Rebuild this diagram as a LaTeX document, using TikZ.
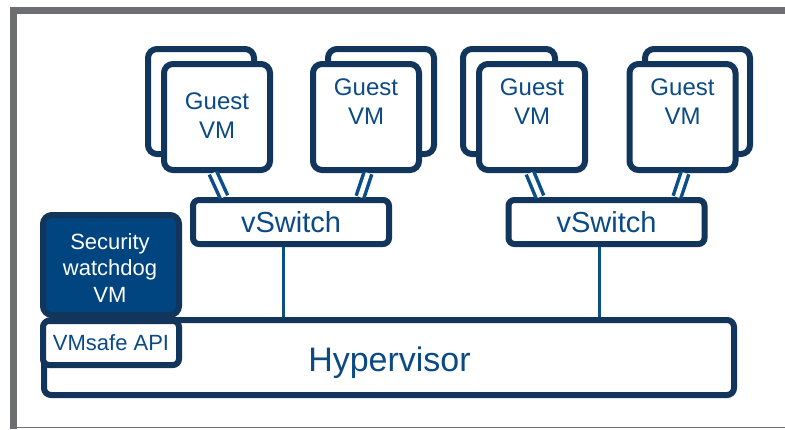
\documentclass[tikz,border=0pt]{standalone}
\usepackage{fontspec}
\setmainfont{Liberation Sans}
\usepackage{tikz}

\begin{document}
\begin{tikzpicture}[x=1pt,y=-1pt,
        vmBox/.style={draw=myNavy,line width=6pt,rounded corners=9pt,fill=white,minimum width=106pt,minimum height=106pt,inner sep=0pt},
        vmBack/.style={vmBox,minimum height=105pt},
        vmLabel/.style={text=myBlue,align=center,inner sep=0pt,font=\fontsize{24}{29.5}\selectfont},
        switchBox/.style={draw=myNavy,line width=6pt,rounded corners=6pt,fill=white,minimum width=196pt,minimum height=44pt,inner sep=0pt,text=myBlue,font=\fontsize{29}{34}\selectfont},
        wireLine/.style={draw=myWire,line width=3pt},
        pairLine/.style={draw=myWire,line width=3.5pt,double=white,double distance=4.5pt}]
            \definecolor{myGray}{HTML}{6D6E71}
            \definecolor{myNavy}{HTML}{12355B}
            \definecolor{myBlue}{HTML}{0B4A84}
            \definecolor{myFill}{HTML}{00457F}
            \definecolor{myWire}{HTML}{0B4F8A}
            \useasboundingbox (0,0) rectangle (785,429);
            % frame
            \draw[myGray,line width=7pt] (13.5,429) -- (13.5,10) -- (785,10);
            \draw[myGray,line width=1.5pt] (13.5,427.5) -- (785,427.5);
            % guest VMs
            \foreach \i/\fx/\bx/\bw/\ty in {1/217/201/106/115.5, 2/366/381/106/101.5, 3/532/509/92/101.5, 4/682.5/697.5/105/101.5}
                {   \node[vmBack,minimum width=\bw pt] (back\i) at (\bx,101.5) {};
                    \node[vmBox] (vm\i) at (\fx,117) {};
                    \node[vmLabel] (vmText\i) at (\fx,\ty) {Guest\\VM};
                }
            % switches and hypervisor
            \node[switchBox] (vs1) at (291,222) {vSwitch};
            \node[switchBox] (vs2) at (606.5,222) {vSwitch};
            \node[draw=myNavy,line width=6pt,rounded corners=7pt,fill=white,minimum width=690pt,minimum height=75pt] (hyp) at (389,357.5) {};
            \node[text=myBlue,anchor=base,inner sep=0pt,font=\fontsize{34}{40}\selectfont] (hypText) at (389.5,371) {Hypervisor};
            \node[draw=myNavy,line width=6pt,rounded corners=6pt,fill=white,minimum width=136pt,minimum height=44pt,inner sep=0pt,text=myBlue,font=\fontsize{22}{26}\selectfont] (api) at (111,343) {VMsafe API};
            \node[draw=myNavy,line width=6pt,rounded corners=9pt,fill=myFill,minimum width=136pt,minimum height=100pt] (dog) at (111,265) {};
            \node[text=white,align=center,inner sep=0pt,font=\fontsize{22}{26.5}\selectfont] (dogText) at (110,268) {Security\\watchdog\\VM};
            % links
            \foreach \i/\a/\b/\s in {1/-4/-67/1, 2/2/69/1, 3/-2/-66.5/2, 4/2.5/70.5/2}
                {   \draw[pairLine] ([xshift=\a pt]vm\i.south) -- ([xshift=\b pt]vs\s.north);
                }
            \coordinate (tap1) at ([xshift=-8pt]vs1.south);
            \coordinate (tap2) at ([xshift=-7.5pt]vs2.south);
            \draw[wireLine] (tap1) -- (tap1 |- hyp.north);
            \draw[wireLine] (tap2) -- (tap2 |- hyp.north);
        \end{tikzpicture}
\end{document}
